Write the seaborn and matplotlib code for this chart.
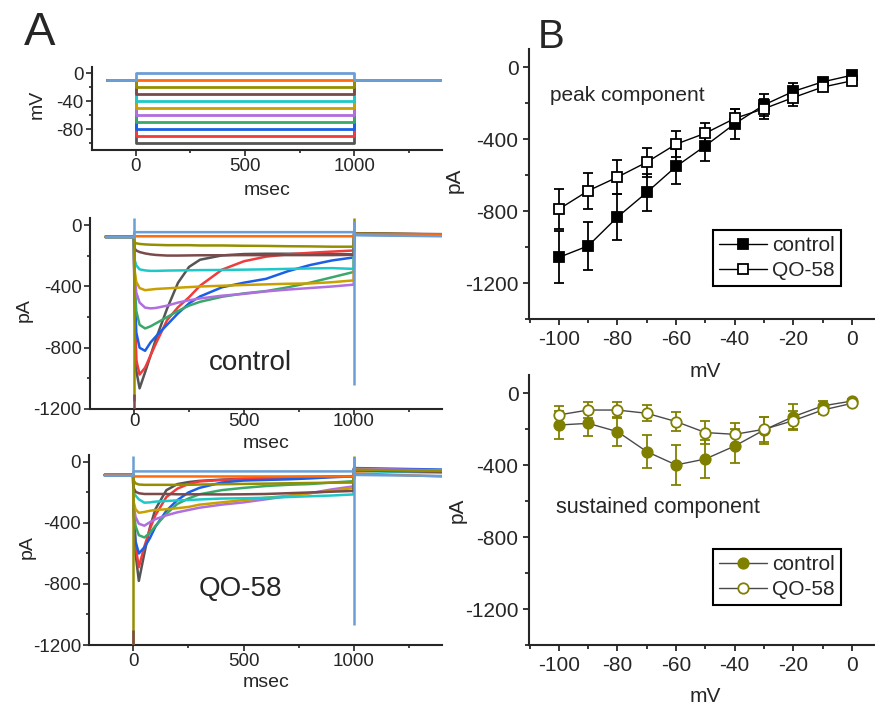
import matplotlib
matplotlib.use("Agg")
import matplotlib.pyplot as plt
import matplotlib.ticker as ticker
import pandas as pd
import seaborn as sns

sns.set_style("ticks")
plt.rcParams["font.family"] = ["Liberation Sans", "DejaVu Sans"]
plt.rcParams["axes.unicode_minus"] = False

# ---- panel A: voltage protocol ----
step_mv = [-100, -90, -80, -70, -60, -50, -40, -30, -20, -10, 0]
hold_mv = -10
sweep_start, step_on, step_off, sweep_end = -130, 0, 1000, 1400
trace_colors = ["#555555", "#f03c3c", "#1a5fe6", "#3aa86a", "#b06ee0", "#c9a000",
                "#1ec8c8", "#7b4a4a", "#948f00", "#ff6a0d", "#6b9ed4"]

# sample times (ms) for the current traces
t_ms = [-130, -1, 1, 10, 25, 50, 75, 100, 150, 200, 250, 300, 400, 500, 600, 700, 800, 900, 999, 1001, 1400]

# control currents (pA), one row per step, same order as step_mv
control_traces = [
    [-78, -78, -400, -950, -1065, -960, -850, -740, -545, -375, -272, -225, -197, -188, -186, -186, -186, -188, -190, -60, -66],
    [-76, -76, -400, -880, -975, -930, -850, -770, -620, -535, -470, -395, -290, -235, -205, -190, -180, -172, -165, -58, -64],
    [-75, -75, -350, -700, -800, -820, -765, -725, -650, -575, -510, -465, -405, -375, -350, -300, -260, -230, -210, -62, -68],
    [-76, -76, -330, -560, -650, -674, -660, -640, -600, -560, -525, -500, -467, -445, -430, -405, -375, -340, -305, -56, -62],
    [-74, -74, -300, -440, -505, -538, -543, -540, -525, -505, -490, -478, -460, -448, -432, -420, -410, -400, -388, -55, -60],
    [-76, -76, -280, -370, -410, -424, -420, -416, -412, -408, -404, -400, -395, -390, -386, -382, -380, -372, -360, -54, -60],
    [-77, -77, -220, -262, -288, -295, -298, -298, -296, -295, -294, -293, -292, -290, -288, -285, -282, -280, -285, -55, -62],
    [-76, -76, -150, -165, -175, -184, -190, -194, -198, -198, -197, -196, -196, -195, -195, -195, -195, -195, -193, -52, -58],
    [-76, -76, -110, -118, -122, -125, -127, -128, -130, -130, -130, -132, -132, -134, -135, -137, -138, -140, -140, -55, -60],
    [-76, -76, -70, -72, -72, -72, -72, -72, -72, -72, -72, -72, -72, -72, -72, -72, -72, -72, -72, -58, -62],
    [-78, -78, -45, -45, -45, -45, -45, -45, -45, -45, -45, -45, -45, -45, -45, -45, -45, -45, -45, -65, -72],
]

# QO-58 currents (pA)
qo58_traces = [
    [-88, -88, -300, -600, -780, -600, -430, -310, -185, -145, -132, -124, -116, -110, -105, -100, -98, -95, -93, -50, -62],
    [-86, -86, -300, -550, -690, -555, -440, -350, -230, -175, -145, -128, -118, -112, -108, -105, -103, -98, -95, -45, -55],
    [-85, -85, -300, -520, -600, -560, -500, -425, -320, -250, -200, -170, -135, -122, -118, -114, -108, -100, -95, -40, -50],
    [-85, -85, -300, -420, -480, -495, -465, -420, -340, -275, -240, -212, -185, -170, -158, -150, -145, -135, -126, -48, -58],
    [-84, -84, -280, -360, -405, -418, -395, -375, -350, -330, -315, -300, -280, -265, -245, -225, -205, -180, -160, -45, -55],
    [-85, -85, -260, -310, -333, -328, -320, -315, -310, -303, -295, -280, -265, -250, -235, -222, -205, -190, -170, -55, -65],
    [-86, -86, -200, -220, -245, -267, -265, -260, -256, -252, -250, -246, -240, -238, -235, -230, -225, -220, -213, -60, -70],
    [-85, -85, -170, -195, -205, -210, -210, -210, -210, -212, -212, -212, -213, -212, -210, -205, -200, -195, -190, -55, -65],
    [-84, -84, -120, -140, -148, -150, -150, -150, -150, -150, -150, -148, -146, -144, -142, -140, -138, -136, -135, -50, -60],
    [-85, -85, -93, -95, -95, -95, -95, -95, -95, -95, -95, -95, -95, -95, -95, -95, -95, -95, -95, -75, -95],
    [-90, -90, -62, -62, -62, -62, -62, -62, -62, -62, -62, -62, -62, -62, -62, -62, -62, -62, -62, -85, -92],
]

# capacitive transients: time, top, bottom, colour
ctrl_spike_t = [0, 0, 0, 1000, 1000]
ctrl_spike_top = [-100, -1100, 45, 45, 30]
ctrl_spike_bot = [-1150, -1200, -80, -100, -1045]
qo_spike_t = [0, 0, 0, 1000, 1000]
qo_spike_top = [-100, -1100, 38, 42, 30]
qo_spike_bot = [-1200, -1200, -90, -110, -1070]
spike_colors = ["#948f00", "#7b4a4a", "#6b9ed4", "#948f00", "#6b9ed4"]

# ---- panel B: I-V ----
iv_mv = [-100, -90, -80, -70, -60, -50, -40, -30, -20, -10, 0]
peak_ctrl = [-1057, -993, -833, -696, -552, -437, -315, -210, -135, -82, -45]
peak_ctrl_err = [145, 135, 127, 103, 98, 87, 85, 62, 45, 15, 10]
peak_qo = [-789, -687, -611, -528, -428, -367, -285, -231, -169, -111, -76]
peak_qo_err = [110, 100, 95, 80, 72, 56, 53, 55, 45, 15, 10]
sus_ctrl = [-176, -167, -213, -324, -398, -365, -293, -204, -130, -70, -43]
sus_ctrl_err = [77, 72, 80, 92, 112, 107, 95, 75, 68, 25, 12]
sus_qo = [-120, -93, -93, -111, -157, -218, -228, -200, -152, -93, -56]
sus_qo_err = [50, 43, 43, 44, 53, 62, 65, 70, 52, 20, 15]

fig = plt.figure(figsize=(8.75, 7.06), dpi=100)
ax_v = fig.add_axes([0.105, 0.7875, 0.40, 0.1175])
ax_c = fig.add_axes([0.103, 0.4207, 0.402, 0.270])
ax_q = fig.add_axes([0.102, 0.0864, 0.403, 0.269])
ax_p = fig.add_axes([0.6046, 0.548, 0.3954, 0.3824])
ax_s = fig.add_axes([0.6046, 0.086, 0.3954, 0.3824])
for ax in (ax_v, ax_c, ax_q, ax_p, ax_s):
    ax.patch.set_alpha(0)

palette = dict(zip(step_mv, trace_colors))

# protocol
rows = []
for v in step_mv:
    for t, mv in zip([sweep_start, step_on, step_on, step_off, step_off, sweep_end],
                     [hold_mv, hold_mv, v, v, hold_mv, hold_mv]):
        rows.append({"t": t, "mV": mv, "step": v})
prot = pd.DataFrame(rows)
sns.lineplot(data=prot, x="t", y="mV", hue="step", hue_order=step_mv, palette=palette,
             estimator=None, sort=False, legend=False, linewidth=2, ax=ax_v)


def trace_frame(traces):
    rows = []
    for v, vals in zip(step_mv, traces):
        for t, i in zip(t_ms, vals):
            rows.append({"t": t, "pA": i, "step": v})
    return pd.DataFrame(rows)


for ax, traces, sp_t, sp_top, sp_bot in [(ax_c, control_traces, ctrl_spike_t, ctrl_spike_top, ctrl_spike_bot),
                                         (ax_q, qo58_traces, qo_spike_t, qo_spike_top, qo_spike_bot)]:
    sns.lineplot(data=trace_frame(traces), x="t", y="pA", hue="step", hue_order=step_mv,
                 palette=palette, estimator=None, sort=False, legend=False, linewidth=1.8, ax=ax)
    ax.vlines(sp_t, sp_bot, sp_top, colors=spike_colors, linewidth=1.8, zorder=3)

ax_c.text(530, -900, "control", fontsize=20, ha="center", va="center")
ax_q.text(485, -832, "QO-58", fontsize=20, ha="center", va="center")

ax_v.set_ylim(-110, 9)
ax_v.yaxis.set_major_locator(ticker.MultipleLocator(40))
ax_v.yaxis.set_minor_locator(ticker.MultipleLocator(20))
ax_v.set_ylabel("mV", fontsize=14)
ax_v.yaxis.set_label_coords(-0.131, 0.55)
ax_v.xaxis.set_label_coords(0.5, -0.385)
for ax in (ax_c, ax_q):
    ax.set_ylim(-1200, 45)
    ax.yaxis.set_major_locator(ticker.MultipleLocator(400))
    ax.yaxis.set_minor_locator(ticker.MultipleLocator(200))
    ax.set_ylabel("pA", fontsize=14)
ax_c.yaxis.set_label_coords(-0.162, 0.52)
ax_c.xaxis.set_label_coords(0.5, -0.136)
ax_q.yaxis.set_label_coords(-0.153, 0.516)
ax_q.xaxis.set_label_coords(0.5, -0.152)
for ax in (ax_v, ax_c, ax_q):
    ax.set_xlim(-200, 1400)
    ax.xaxis.set_major_locator(ticker.FixedLocator([0, 500, 1000]))
    ax.xaxis.set_minor_locator(ticker.FixedLocator([250, 750, 1250]))
    ax.set_xlabel("msec", fontsize=14)
    ax.tick_params(which="major", labelsize=13.5, length=4, width=1.2, pad=2)
    ax.tick_params(which="minor", length=2.5, width=1.2)
    sns.despine(ax=ax)
    for s in ("left", "bottom"):
        ax.spines[s].set_linewidth(1.5)
ax_c.tick_params(axis="x", which="major", pad=-1)

# I-V panels
olive = "#808000"
for ax, c_m, c_e, q_m, q_e, mk, col, lcol in [
        (ax_p, peak_ctrl, peak_ctrl_err, peak_qo, peak_qo_err, "s", "black", "black"),
        (ax_s, sus_ctrl, sus_ctrl_err, sus_qo, sus_qo_err, "o", olive, "#4a4a4a")]:
    ax.errorbar(iv_mv, c_m, yerr=c_e, fmt="none", ecolor=col, elinewidth=1.3, capsize=3.8, capthick=1.3, zorder=2)
    ax.errorbar(iv_mv, q_m, yerr=q_e, fmt="none", ecolor=col, elinewidth=1.3, capsize=3.8, capthick=1.3, zorder=2)
    sns.lineplot(x=iv_mv, y=c_m, color=lcol, linewidth=1, marker=mk, markersize=7.5,
                 markerfacecolor=col, markeredgecolor=col, markeredgewidth=1.3, label="control", ax=ax, zorder=3)
    sns.lineplot(x=iv_mv, y=q_m, color=lcol, linewidth=1, marker=mk, markersize=7.5,
                 markerfacecolor="white", markeredgecolor=col, markeredgewidth=1.3, label="QO-58", ax=ax, zorder=3)
    ax.set_xlim(-110.2, 7.9)
    ax.set_ylim(-1400, 100)
    ax.xaxis.set_major_locator(ticker.MultipleLocator(20))
    ax.xaxis.set_minor_locator(ticker.MultipleLocator(10))
    ax.yaxis.set_major_locator(ticker.MultipleLocator(400))
    ax.yaxis.set_minor_locator(ticker.MultipleLocator(200))
    ax.tick_params(which="major", labelsize=15, length=4.5, width=1.3, pad=3)
    ax.tick_params(which="minor", length=3, width=1.3)
    ax.set_xlabel("mV", fontsize=15)
    ax.set_ylabel("pA", fontsize=15)
    sns.despine(ax=ax)
    for s in ("left", "bottom"):
        ax.spines[s].set_linewidth(1.5)

ax_p.xaxis.set_label_coords(0.51, -0.16)
ax_p.yaxis.set_label_coords(-0.19, 0.515)
ax_s.xaxis.set_label_coords(0.51, -0.154)
ax_s.yaxis.set_label_coords(-0.18, 0.5)

leg_kw = dict(fontsize=15, frameon=True, fancybox=False, framealpha=1, edgecolor="black",
              handlelength=2.3, handletextpad=0.25, borderpad=0.3, labelspacing=0.28, borderaxespad=0)
lg = ax_p.legend(loc="upper left", bbox_to_anchor=(0.532, 0.33), **leg_kw)
lg.get_frame().set_linewidth(1.5)
lg = ax_s.legend(loc="upper left", bbox_to_anchor=(0.532, 0.357), **leg_kw)
lg.get_frame().set_linewidth(1.5)

ax_p.text(0.061, 0.83, "peak component", transform=ax_p.transAxes, fontsize=15, ha="left", va="center")
ax_s.text(0.078, 0.512, "sustained component", transform=ax_s.transAxes, fontsize=15.5, ha="left", va="center")

fig.text(0.027, 0.985, "A", fontsize=34, ha="left", va="top")
fig.text(0.615, 0.975, "B", fontsize=29, ha="left", va="top")

fig.savefig("out.png", dpi=100)
